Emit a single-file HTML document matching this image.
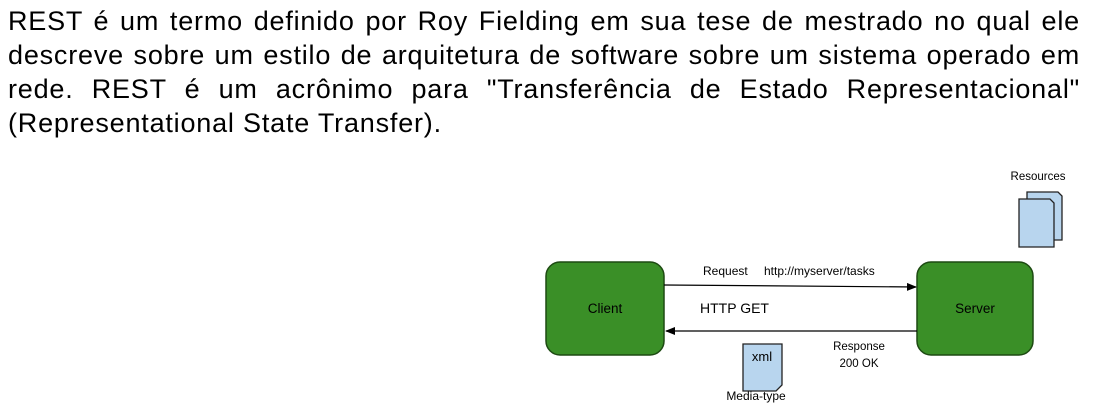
<!DOCTYPE html>
<html><head><meta charset="utf-8"><style>
body{margin:0;width:1105px;height:416px;background:#fff;overflow:hidden;font-family:"Liberation Sans",sans-serif}
.p{position:absolute;left:8px;top:4px;width:1072px;font-size:27px;line-height:34px;letter-spacing:0.8px;color:#000;margin:0;white-space:nowrap}
.l{text-align:justify;text-align-last:justify}
svg{position:absolute;left:0;top:0}
</style></head><body>
<div class="p">
<div class="l">REST é um termo definido por Roy Fielding em sua tese de mestrado no qual ele</div>
<div class="l">descreve sobre um estilo de arquitetura de software sobre um sistema operado em</div>
<div class="l">rede. REST é um acrônimo para "Transferência de Estado Representacional"</div>
<div>(Representational State Transfer).</div>
</div>
<svg width="1105" height="416" font-family="Liberation Sans, sans-serif">
<defs><marker id="a" markerWidth="10" markerHeight="8" refX="9" refY="4" orient="auto" markerUnits="userSpaceOnUse"><path d="M0,0L10,4L0,8z" fill="#000"/></marker></defs>
<rect x="546" y="262" width="118" height="93" rx="14" fill="#3a8f27" stroke="#1d4a12" stroke-width="1.5"/>
<rect x="917" y="262" width="116" height="93" rx="14" fill="#3a8f27" stroke="#1d4a12" stroke-width="1.5"/>
<text x="605" y="313" font-size="13.5" text-anchor="middle">Client</text>
<text x="975" y="313" font-size="13.5" text-anchor="middle">Server</text>
<line x1="664" y1="285" x2="916" y2="287" stroke="#000" stroke-width="1.2" marker-end="url(#a)"/>
<line x1="917" y1="331" x2="666" y2="331" stroke="#000" stroke-width="1.2" marker-end="url(#a)"/>
<text x="703" y="275" font-size="12">Request</text>
<text x="764" y="275" font-size="12">http://myserver/tasks</text>
<text x="700" y="313" font-size="14">HTTP GET</text>
<text x="859" y="350" font-size="11.5" text-anchor="middle">Response</text>
<text x="859" y="367" font-size="11.5" text-anchor="middle">200 OK</text>
<path d="M743,344H782V385L776,391H743Z" fill="#b8d5ee" stroke="#222" stroke-width="1.3"/>
<text x="762" y="361" font-size="13" text-anchor="middle">xml</text>
<text x="756" y="400" font-size="12" text-anchor="middle">Media-type</text>
<path d="M1027,192H1058L1062,196V240H1027Z" fill="#b8d5ee" stroke="#222" stroke-width="1.3"/>
<path d="M1019,199H1050L1054,203V247H1019Z" fill="#b8d5ee" stroke="#222" stroke-width="1.3"/>
<text x="1038" y="180" font-size="11.5" text-anchor="middle">Resources</text>
</svg>
</body></html>
